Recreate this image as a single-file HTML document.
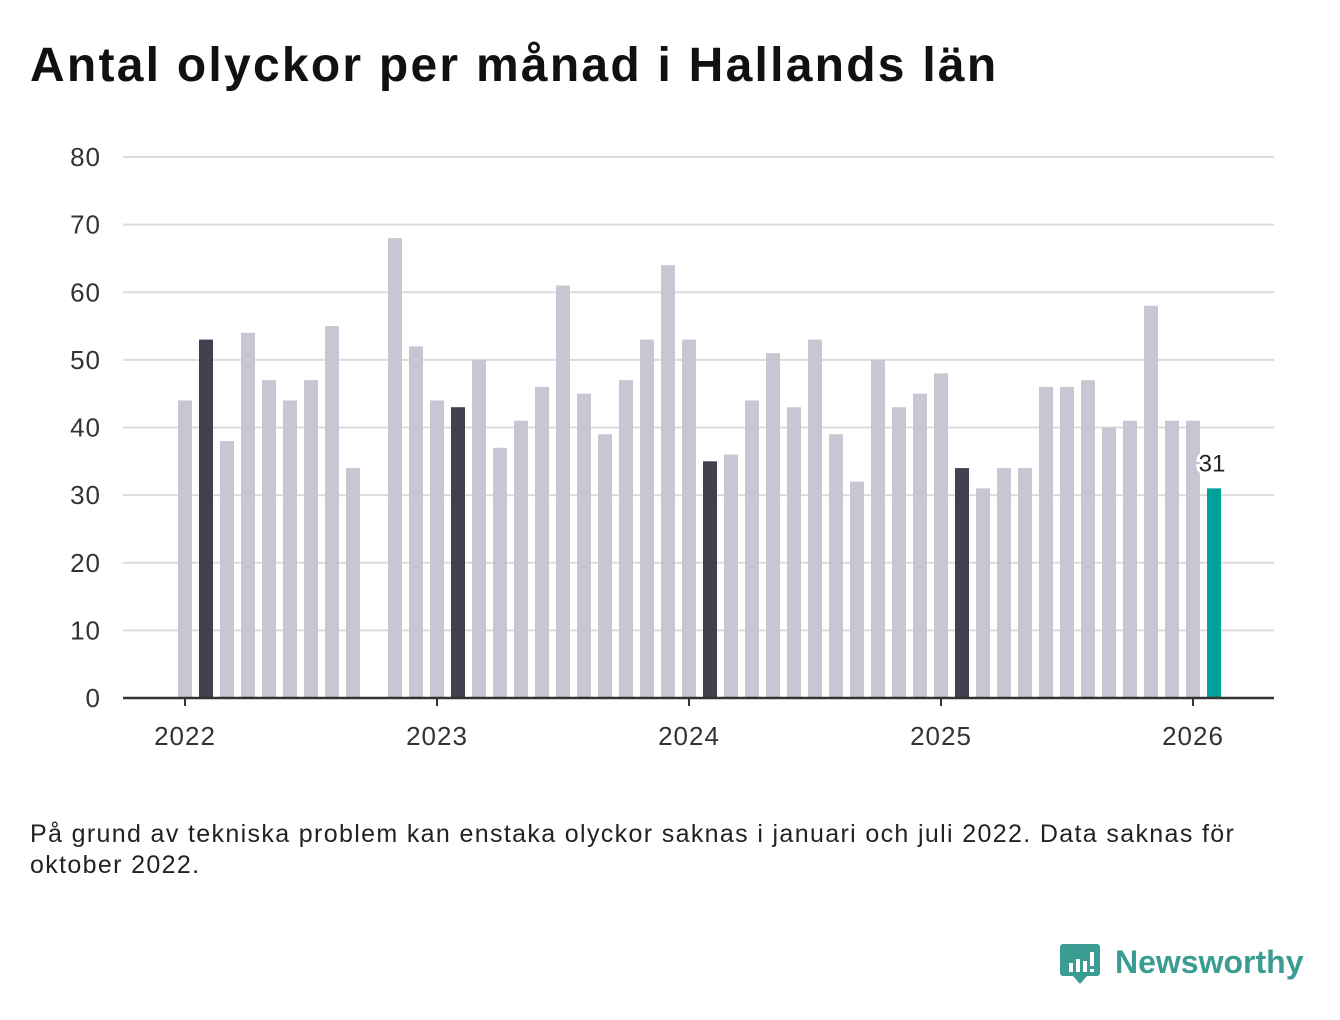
<!DOCTYPE html>
<html><head><meta charset="utf-8">
<style>
body{margin:0;background:#fff;width:1340px;height:1020px;overflow:hidden;font-family:"Liberation Sans",sans-serif;}
#title{position:absolute;left:30px;top:38px;font-size:48px;font-weight:bold;color:#111;margin:0;letter-spacing:2.25px;white-space:nowrap}
#note{position:absolute;left:30px;top:819px;font-size:25px;color:#222;line-height:31px;width:1240px;letter-spacing:1.35px}
#logo{position:absolute;left:1060px;top:940px;}
</style></head><body>
<h1 id="title">Antal olyckor per månad i Hallands län</h1>
<svg id="chart" width="1340" height="800" style="position:absolute;left:0;top:0"></svg>
<div id="note">På grund av tekniska problem kan enstaka olyckor saknas i januari och juli 2022. Data saknas för oktober 2022.</div>
<div id="logo">
<svg width="260" height="52">
<path d="M3 4 h34 a3 3 0 0 1 3 3 v26 a3 3 0 0 1 -3 3 h-10 l-7 8 l-7 -8 h-10 a3 3 0 0 1 -3 -3 v-26 a3 3 0 0 1 3 -3z" fill="#3a9c92"/>
<rect x="9" y="23" width="4" height="9" fill="#fff"/><rect x="16" y="19" width="4" height="13" fill="#fff"/><rect x="23" y="21" width="4" height="11" fill="#fff"/><rect x="30" y="12" width="4" height="14" fill="#fff"/><rect x="30" y="29" width="4" height="3" fill="#fff"/>
<text x="55" y="33" font-family="Liberation Sans, sans-serif" font-size="32" font-weight="bold" fill="#3a9c92">Newsworthy</text>
</svg></div>
<script>
const categories=["2022-01","2022-02","2022-03","2022-04","2022-05","2022-06","2022-07","2022-08","2022-09","2022-10","2022-11","2022-12","2023-01","2023-02","2023-03","2023-04","2023-05","2023-06","2023-07","2023-08","2023-09","2023-10","2023-11","2023-12","2024-01","2024-02","2024-03","2024-04","2024-05","2024-06","2024-07","2024-08","2024-09","2024-10","2024-11","2024-12","2025-01","2025-02","2025-03","2025-04","2025-05","2025-06","2025-07","2025-08","2025-09","2025-10","2025-11","2025-12","2026-01","2026-02"];
const values=[44,53,38,54,47,44,47,55,34,null,68,52,44,43,50,37,41,46,61,45,39,47,53,64,53,35,36,44,51,43,53,39,32,50,43,45,48,34,31,34,34,46,46,47,40,41,58,41,41,31];
const yTicks=[0,10,20,30,40,50,60,70,80];
const xTickLabels=["2022","2023","2024","2025","2026"];
const NS="http://www.w3.org/2000/svg";
const svg=document.getElementById('chart');
const x0=123,x1=1274,yBase=698,yTop=157,yMax=80;
const y=v=>yBase-(v/yMax)*(yBase-yTop);
const monthW=21,firstX=185;
const xIdx=i=>firstX+i*monthW;
function mk(t,a){const e=document.createElementNS(NS,t);for(const k in a)e.setAttribute(k,a[k]);svg.appendChild(e);return e;}
yTicks.forEach(t=>{
 if(t>0){const g=mk('line',{x1:x0,x2:x1,y1:y(t),y2:y(t),stroke:'#dcdcdc','stroke-width':2});
 
 }
 const l=mk('text',{x:101,y:y(t)+9,'text-anchor':'end','font-size':26,fill:'#333','letter-spacing':1,'font-family':'Liberation Sans, sans-serif'});
 l.textContent=t;
 
 
});
values.forEach((v,i)=>{
 if(v==null)return;
 const m=categories[i].slice(5);
 const last=i===values.length-1;
 const col=last?'#00a19a':(m==='02'?'#40404e':'#c8c6d2');
 const r=mk('rect',{x:xIdx(i)-7,y:y(v),width:14,height:yBase-y(v),fill:col});
 
 
 if(last){
  const t=mk('text',{x:xIdx(i)-2,y:y(v)-17,'text-anchor':'middle','font-size':24,fill:'#222',stroke:'#fff','stroke-width':6,'paint-order':'stroke','font-family':'Liberation Sans, sans-serif'});
  t.textContent=v;
  
  
 }
});
const ax=mk('line',{x1:x0,x2:x1,y1:yBase,y2:yBase,stroke:'#333','stroke-width':2.5});


xTickLabels.forEach((lab,k)=>{
 const xx=xIdx(k*12);
 const tk=mk('line',{x1:xx,x2:xx,y1:yBase,y2:yBase+8,stroke:'#333','stroke-width':2});
 
 
 const t=mk('text',{x:xx,y:745,'text-anchor':'middle','font-size':26,fill:'#333','letter-spacing':1,'font-family':'Liberation Sans, sans-serif'});
 t.textContent=lab;
 
 
});
</script>
</body></html>
